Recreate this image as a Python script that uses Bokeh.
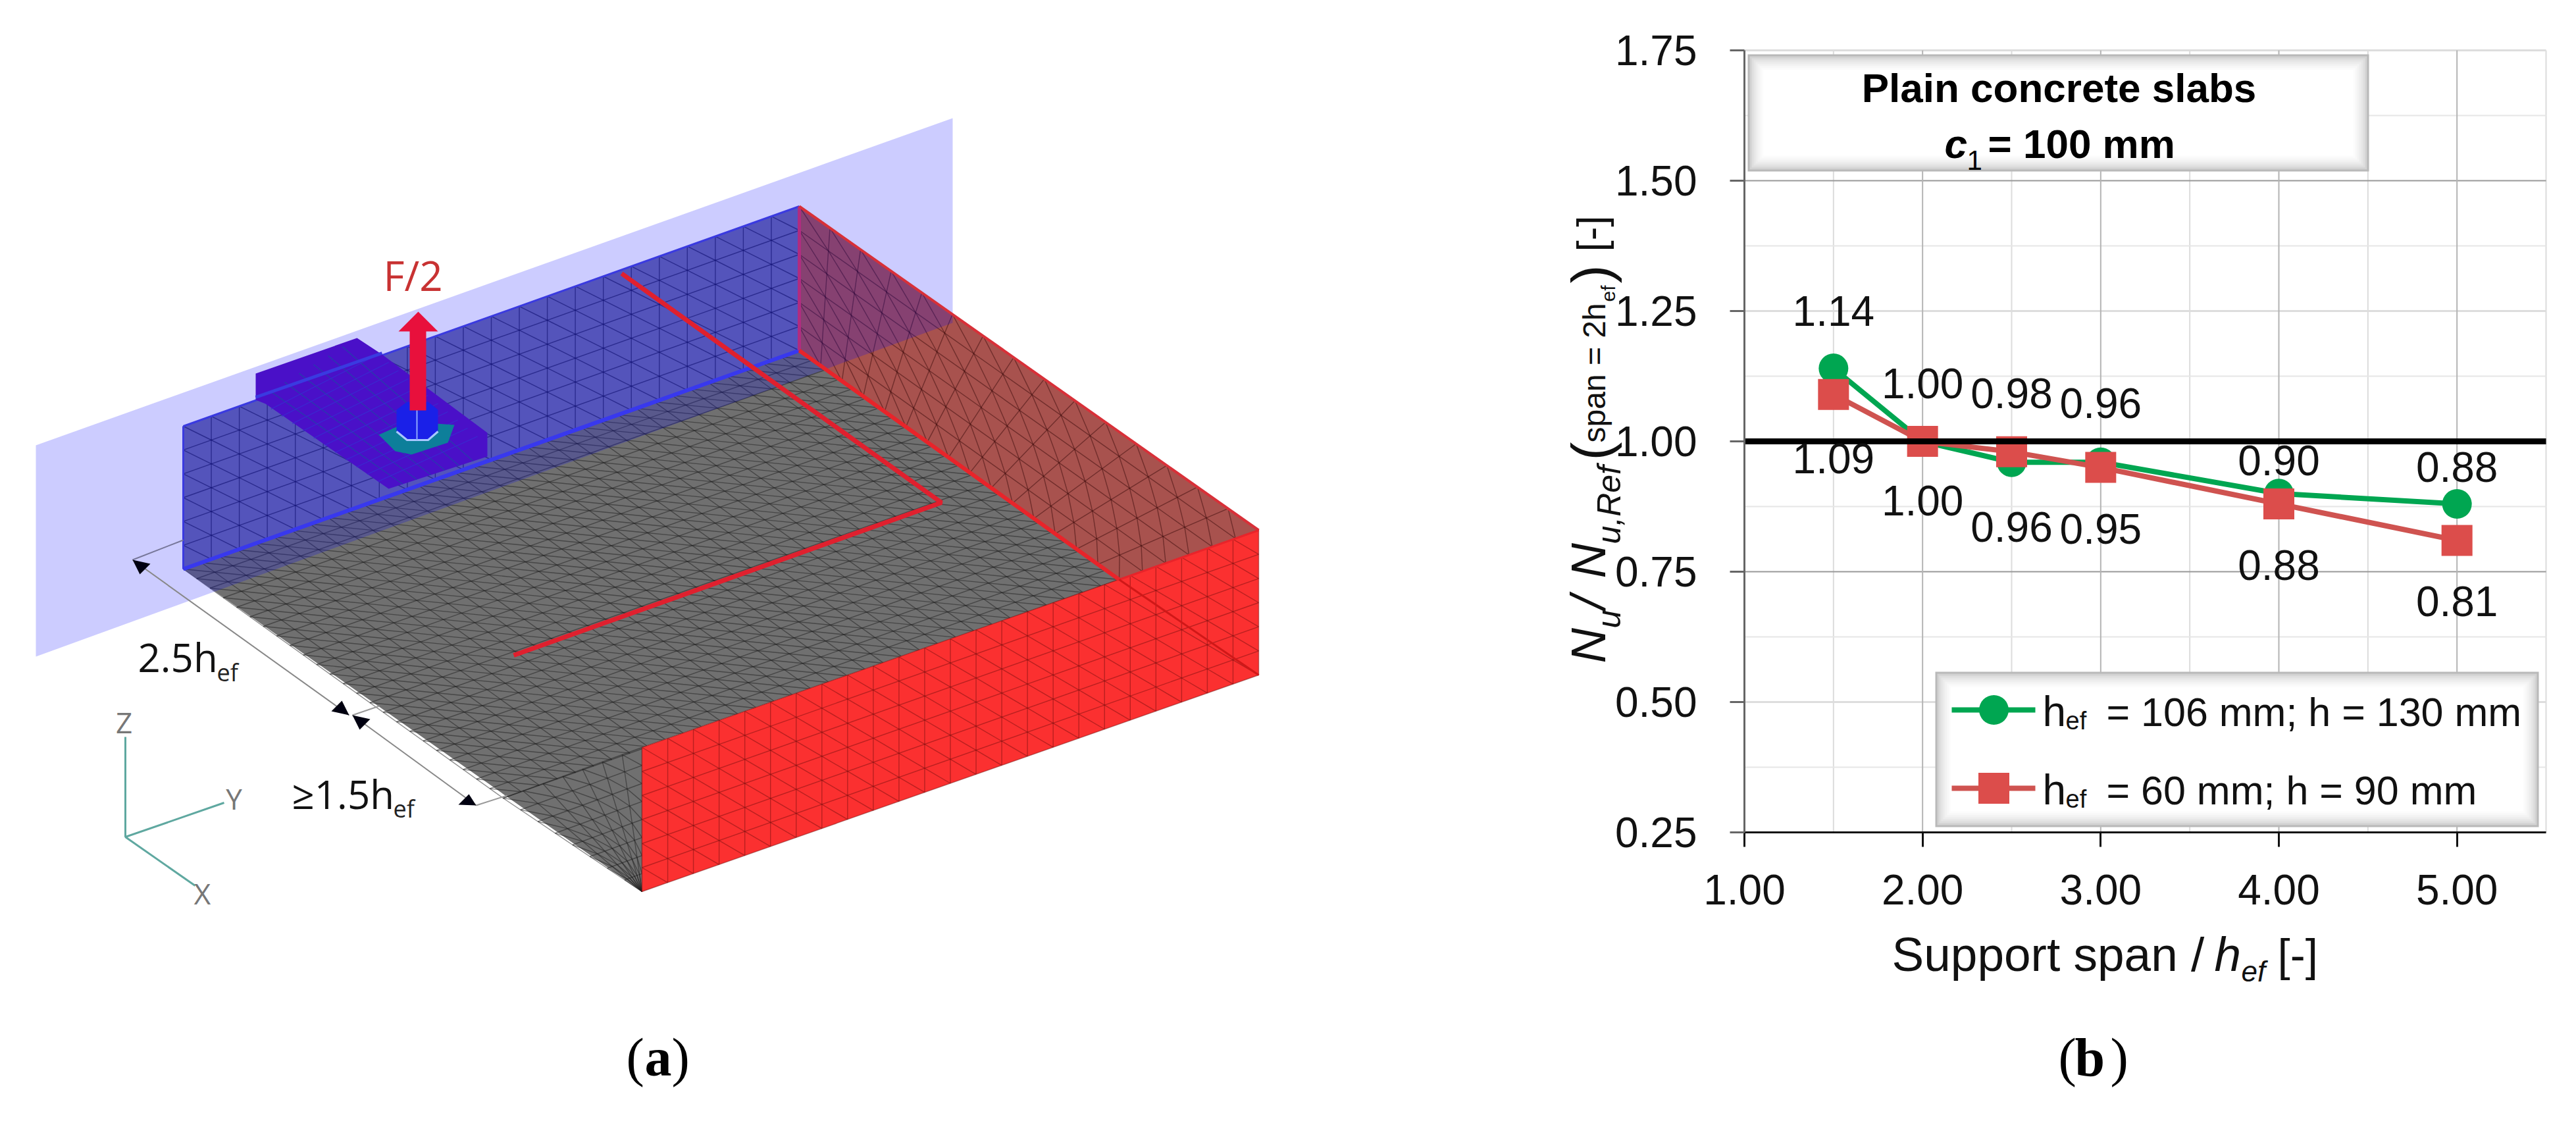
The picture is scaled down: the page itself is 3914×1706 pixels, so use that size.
from bokeh.plotting import figure
from bokeh.models import Range1d, FixedTicker, Label
from bokeh.core.properties import value
from bokeh.embed import file_html
from bokeh.resources import INLINE
import math

# ---------- chart data ----------
span_ratio = [1.5, 2.0, 2.5, 3.0, 4.0, 5.0]
nu_106 = [1.14, 1.00, 0.96, 0.96, 0.90, 0.88]
nu_60 = [1.09, 1.00, 0.98, 0.95, 0.88, 0.81]
x_ticks = [1, 2, 3, 4, 5]
x_minor = [1.5, 2.5, 3.5, 4.5, 5.5]
x_labels = ["1.00", "2.00", "3.00", "4.00", "5.00"]
y_ticks = [0.25, 0.5, 0.75, 1.0, 1.25, 1.5, 1.75]
y_minor = [0.375, 0.625, 0.875, 1.125, 1.375, 1.625]
y_labels = ["0.25", "0.50", "0.75", "1.00", "1.25", "1.50", "1.75"]
label_offset_106 = [-87, -88, 98, -90, -50, -56]
label_offset_60 = [97, 90, -89, 93, 93, 93]

GREEN = "#00a651"
RED = "#dc4d4b"
RED_LINE = "#cf5350"
SANS = "Liberation Sans"
OPEN = "Open Sans"
SERIF = "Liberation Serif"

# ---------- page-wide figure; the chart axes sit inside it ----------
W, H = 3898, 1690
FL, FR, FT, FB = 2650, 3868, 76, 1264
X_MIN, X_MAX, Y_MIN, Y_MAX = 1, 5.5, 0.25, 1.75


def X(px):
    return (px - FL) / (FR - FL) * (X_MAX - X_MIN) + X_MIN


def Y(py):
    return (FB - py) / (FB - FT) * (Y_MAX - Y_MIN) + Y_MIN


p = figure(width=W, height=H, output_backend="svg", toolbar_location=None,
           x_range=Range1d(X(0), X(W)), y_range=Range1d(Y(H), Y(0)),
           min_border_left=0, min_border_right=0, min_border_top=0, min_border_bottom=0)
p.extra_x_ranges = {"px": Range1d(0, W)}
p.extra_y_ranges = {"py": Range1d(H, 0)}
p.outline_line_color = None
p.background_fill_color = "white"
p.border_fill_color = "white"
p.grid.visible = False


def lab(px, py, text, size, font=SANS, style="normal", angle=0,
        align="left", base="baseline", color="#111111"):
    # (px, py) is the text's baseline unless base="middle"
    if base == "baseline":
        if angle:
            px -= 0.35 * size
        else:
            py -= 0.35 * size
    p.add_layout(Label(x=px, y=py, x_units="canvas", y_units="canvas", text=text, text_font=font,
                       text_font_size=f"{size}px", text_font_style=style, angle=angle, text_align=align,
                       text_baseline="middle", text_color=color))


xa = p.xaxis[0]
ya = p.yaxis[0]
xa.fixed_location = Y_MIN
ya.fixed_location = X_MIN
xa.bounds = (X_MIN, X_MAX)
ya.bounds = (Y_MIN, Y_MAX)
xa.ticker = FixedTicker(ticks=x_ticks)
ya.ticker = FixedTicker(ticks=y_ticks)
xa.major_label_overrides = dict(zip(x_ticks, x_labels))
ya.major_label_overrides = dict(zip(y_ticks, y_labels))
for ax, col in ((xa, "#111111"), (ya, "#666666")):
    ax.major_tick_in = 0
    ax.major_tick_out = 22
    ax.minor_tick_in = 0
    ax.minor_tick_out = 0
    ax.major_tick_line_width = 3
    ax.major_tick_line_color = col
    ax.axis_line_width = 3
    ax.axis_line_color = col
    ax.major_label_text_font = SANS
    ax.major_label_text_font_size = "64px"
    ax.major_label_text_color = "#111111"
xa.major_label_standoff = 42
ya.major_label_standoff = 50


def grid_v(ticks, color, width):
    p.segment(ticks, [Y_MIN] * len(ticks), ticks, [Y_MAX] * len(ticks), line_color=color, line_width=width,
              level="underlay")


def grid_h(ticks, color, width):
    p.segment([X_MIN] * len(ticks), ticks, [X_MAX] * len(ticks), ticks, line_color=color, line_width=width,
              level="underlay")


grid_v(x_minor, "#dcdcdc", 2)
grid_h(y_minor, "#e6e6e6", 2)
grid_h([t for t in y_ticks if t not in (0.75, 1.5)], "#dddddd", 3)
grid_h([0.75, 1.5], "#999999", 2)
grid_v(x_ticks, "#b4b4b4", 2)


def soft_box(left, right, top, bottom, edge):
    shades = ["#b9b9b9", "#d2d2d2", "#dedede", "#e6e6e6", "#ededed", "#f3f3f3", "#f8f8f8", "#fcfcfc", "#ffffff"]
    for i, c in enumerate(shades):
        d = i * edge
        p.quad(left=X(left + d), right=X(right - d), top=Y(top + d), bottom=Y(bottom - d),
               fill_color=c, line_color=None)


soft_box(2655, 3599, 82, 260, 3)
soft_box(2940, 3857, 1020, 1256, 3)

# series
p.line(span_ratio, nu_106, line_color=GREEN, line_width=8)
p.line(span_ratio, nu_60, line_color=RED_LINE, line_width=8)
p.scatter(span_ratio, nu_106, marker="circle", size=45, fill_color=GREEN, line_color=None)
p.scatter(span_ratio, nu_60, marker="square", size=47, fill_color=RED, line_color=None)
p.line([X_MIN, X_MAX], [1.0, 1.0], line_color="black", line_width=9)
for vals, offs in ((nu_106, label_offset_106), (nu_60, label_offset_60)):
    p.text(span_ratio, vals, text=[f"{v:.2f}" for v in vals], y_offset=offs, text_align="center",
           text_baseline="middle", text_font_size="64px", text_font=value(SANS), text_color="#111111")

# title box texts
lab(3128, 133, "Plain concrete slabs", 62, style="bold", align="center", base="middle", color="black")
lab(2954, 240, "c", 62, style="bold italic", color="black")
lab(2988, 258, "1", 42, color="black")
lab(3020, 240, "= 100 mm", 62, style="bold", color="black")

# legend
p.line([X(2965), X(3092)], [Y(1078), Y(1078)], line_color=GREEN, line_width=8)
p.scatter([X(3029)], [Y(1078)], marker="circle", size=45, fill_color=GREEN, line_color=None)
p.line([X(2965), X(3092)], [Y(1197), Y(1197)], line_color=RED_LINE, line_width=8)
p.scatter([X(3029)], [Y(1197)], marker="square", size=47, fill_color=RED, line_color=None)
lab(3103, 1103, "h", 64)
lab(3138, 1108, "ef", 38)
lab(3200, 1103, "= 106 mm; h = 130 mm", 61)
lab(3103, 1222, "h", 64)
lab(3138, 1227, "ef", 38)
lab(3200, 1222, "= 60 mm; h = 90 mm", 61)

# x title
lab(2874, 1475, "Support span /", 73)
lab(3364, 1475, "h", 73, style="italic")
lab(3405, 1490, "ef", 44, style="italic")
lab(3460, 1475, "[-]", 69)

# y title
V = math.pi / 2
lab(2439, 1007, "N", 74, style="italic", angle=V)
lab(2462, 954, "u", 50, style="italic", angle=V)
lab(2439, 925, "/", 74, style="italic", angle=V)
lab(2439, 878, "N", 74, style="italic", angle=V)
lab(2462, 826, "u,Ref", 50, style="italic", angle=V)
lab(2447, 699, "(", 84, angle=V)
lab(2439, 672, "span = 2h", 48, angle=V)
lab(2453, 458, "ef", 30, angle=V)
lab(2447, 430, ")", 84, angle=V)
lab(2439, 382, "[-]", 62, angle=V)

# captions
lab(3127, 1635, "(", 82, font=SERIF, color="black")
lab(3152, 1635, "b", 82, font=SERIF, style="bold", color="black")
lab(3206, 1635, ")", 82, font=SERIF, color="black")
lab(951, 1635, "(", 82, font=SERIF, color="black")
lab(979, 1635, "a", 82, font=SERIF, style="bold", color="black")
lab(1020, 1635, ")", 82, font=SERIF, color="black")

# ---------- left panel: illustration drawn in page pixel space ----------
PX = dict(x_range_name="px", y_range_name="py")
plane = [(54, 676), (1447, 179), (1447, 490), (54, 997)]
blue_face = [(278, 647), (1214, 313), (1214, 532), (278, 864)]
gray_face = [(278, 864), (1214, 532), (1700, 880), (975, 1135), (975, 1354)]
brown_face = [(1214, 313), (1912, 805), (1700, 880), (1214, 532)]
red_face = [(975, 1135), (1912, 805), (1912, 1025), (975, 1354)]
plate = [(388, 567), (542, 513), (580, 538), (740, 657), (740, 693), (590, 742), (403, 613), (388, 607)]
nut = [(602, 622), (618, 610), (650, 610), (665, 622), (665, 655), (650, 668), (618, 668), (602, 655)]
washer = [(575, 660), (620, 640), (690, 645), (680, 672), (625, 690), (600, 685)]
arrow = [(622, 623), (622, 503), (605, 503), (635, 473), (665, 503), (647, 503), (647, 623)]


def poly(pts, color, alpha=1.0):
    p.patch([a for a, _ in pts], [b for _, b in pts], fill_color=color, fill_alpha=alpha, line_color=None, **PX)


def mesh(a, b, c, d, nu, nv, color, alpha, width=1.4):
    xs, ys = [], []

    def pt(u, v):
        top = (a[0] + (b[0] - a[0]) * u, a[1] + (b[1] - a[1]) * u)
        bot = (d[0] + (c[0] - d[0]) * u, d[1] + (c[1] - d[1]) * u)
        return (top[0] + (bot[0] - top[0]) * v, top[1] + (bot[1] - top[1]) * v)

    for i in range(nu + 1):
        s, e = pt(i / nu, 0), pt(i / nu, 1)
        xs.append([s[0], e[0]])
        ys.append([s[1], e[1]])
    for j in range(nv + 1):
        s, e = pt(0, j / nv), pt(1, j / nv)
        xs.append([s[0], e[0]])
        ys.append([s[1], e[1]])
    for i in range(nu):
        for j in range(nv):
            s, e = pt(i / nu, j / nv), pt((i + 1) / nu, (j + 1) / nv)
            xs.append([s[0], e[0]])
            ys.append([s[1], e[1]])
    p.multi_line(xs, ys, line_color=color, line_alpha=alpha, line_width=width, **PX)


def seg(pts, color, width, alpha=1.0):
    p.line([a for a, _ in pts], [b for _, b in pts], line_color=color, line_width=width, line_alpha=alpha, **PX)


poly(gray_face, "#707070")
mesh((278, 864), (1214, 532), (1700, 880), (764, 1212), 34, 24, "#1e1e1e", 0.5)
mesh((764, 1212), (975, 1135), (975, 1354), (975, 1354), 7, 8, "#1e1e1e", 0.5)
poly(brown_face, "#a8524e")
mesh(brown_face[0], brown_face[1], brown_face[2], brown_face[3], 15, 6, "#3a0a0a", 0.5)
poly(blue_face, "#6a6aaa")
mesh(blue_face[0], blue_face[1], blue_face[2], blue_face[3], 22, 6, "#141450", 0.6)
poly(red_face, "#fb3030")
mesh(red_face[0], red_face[1], red_face[2], red_face[3], 24, 6, "#7a1010", 0.5)
poly(plane, "#0000ff", 0.2)

seg([(278, 864), (1214, 532)], "#3838ee", 6)
seg([(278, 647), (1214, 313)], "#3a3ae0", 3)
seg([(278, 647), (278, 864)], "#3a3ae0", 3)
seg([(1214, 313), (1214, 532)], "#b02c80", 5)
seg([(1214, 313), (1912, 805)], "#d83038", 4)
seg([(1214, 532), (1700, 880)], "#e8242a", 6)
seg([(1700, 880), (1912, 805)], "#e8242a", 3)
seg([(1700, 880), (1912, 1025)], "#d01818", 3)
seg([(944, 415), (1430, 763), (780, 995)], "#e0202e", 7)

# anchor plate, nut, arrow
poly(plate, "#4a10c8")
for t in range(1, 7):
    f = t / 7
    seg([(388 + (542 - 388) * f, 607 - 94 * f), (590 + 150 * f, 742 - 49 * f)], "#2a38b0", 1.5)
for t in range(1, 12):
    f = t / 12
    seg([(395 + (590 - 395) * f, 610 + (742 - 610) * f), (560 + (740 - 560) * f, 525 + (675 - 525) * f)],
        "#3a2ad0", 1.2)
seg([(388, 603), (580, 536)], "#3a3ae0", 5)
poly(washer, "#0d7f9a")
poly(nut, "#1a20e8")
seg([(602, 655), (618, 668), (650, 668), (665, 655)], "#a8c8ff", 3)
seg([(633, 615), (633, 668)], "#8ea8ff", 2)
poly(arrow, "#e8103c")

# dimension lines
seg([(201, 850), (530, 1086)], "#888888", 2)
seg([(535, 1086), (723, 1223)], "#888888", 2)
seg([(201, 850), (278, 820)], "#777799", 2)
seg([(535, 1086), (576, 1072)], "#999999", 2)
seg([(723, 1223), (770, 1208)], "#999999", 2)
heads = [[(201, 850), (228, 856), (212, 872)], [(530, 1086), (503, 1080), (519, 1064)],
         [(535, 1086), (562, 1092), (546, 1108)], [(723, 1223), (696, 1222), (712, 1206)]]
for h in heads:
    poly(h, "#000010")

# axis triad
seg([(190, 1119), (190, 1271), (340, 1219)], "#5fa8a0", 3)
seg([(190, 1271), (296, 1345)], "#5fa8a0", 3)

lab(188, 1096, "Z", 44, font=OPEN, align="center", base="middle", color="#777777")
lab(355, 1212, "Y", 44, font=OPEN, align="center", base="middle", color="#777777")
lab(307, 1356, "X", 44, font=OPEN, align="center", base="middle", color="#777777")
lab(627, 417, "F/2", 62, font=OPEN, align="center", base="middle", color="#c83232")
lab(209, 1018, "2.5h", 60, font=OPEN, color="#111111")
lab(329, 1034, "ef", 36, font=OPEN, color="#222222")
lab(443, 1226, "≥1.5h", 60, font=OPEN, color="#111111")
lab(597, 1241, "ef", 36, font=OPEN, color="#222222")

open("out.html", "w").write(file_html(p, INLINE))
